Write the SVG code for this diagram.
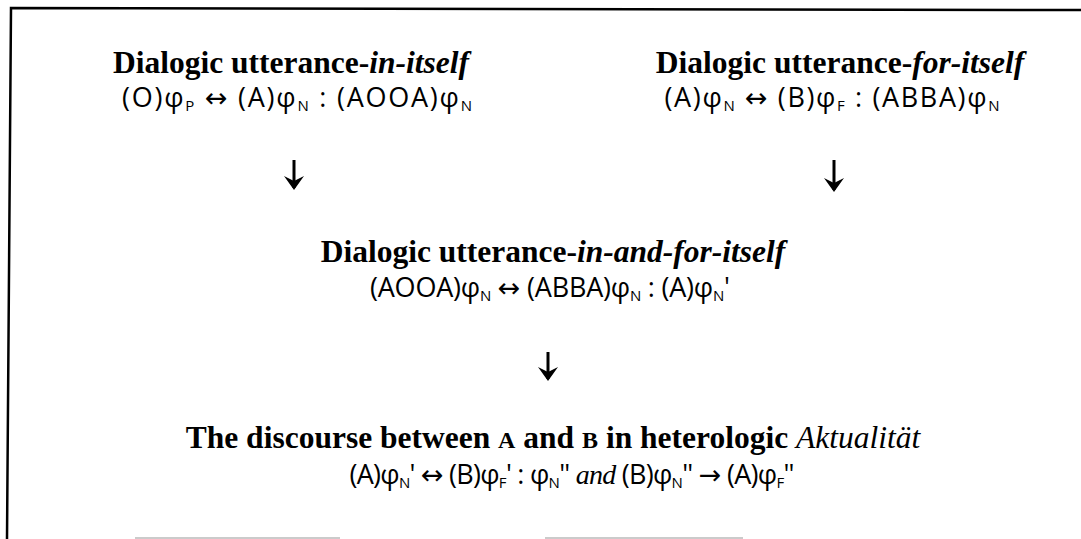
<svg xmlns="http://www.w3.org/2000/svg" width="1081" height="539" viewBox="0 0 1081 539">
<defs>
<style>
.t{font-family:"Liberation Serif","Times New Roman",serif;font-weight:bold;font-size:31.5px;fill:#000;text-anchor:middle}
.bi{font-style:italic}
.f{font-family:"Open Sans","Liberation Sans",sans-serif;font-size:27px;fill:#000;text-anchor:middle}
.s{font-size:15px}
.ar{font-family:"DejaVu Sans",sans-serif;font-size:27px}
.it{font-family:"Liberation Serif",serif;font-style:italic;font-size:28px}
.sc{font-size:24px}
.frame{fill:none;stroke:#000;stroke-width:2.5}
.conn line{stroke:#000;stroke-width:3}
</style>
<marker id="ah" viewBox="0 0 14 20" refX="12" refY="10" markerWidth="14" markerHeight="20" markerUnits="userSpaceOnUse" orient="auto">
<path d="M0,0 L14,10 L0,20 L5,10 Z" fill="#000"/>
</marker>
</defs>
<rect width="1081" height="539" fill="#fff"/>
<g id="frame">
<path class="frame" d="M7,539 L11,8 L1081,10"/>
<path d="M135,538 H340 M545,538 H743" stroke="#bbb" stroke-width="1.5"/>
</g>
<g id="node-in-itself">
<text class="t" x="291" y="73">Dialogic utterance-<tspan class="bi">in-itself</tspan></text>
<text class="f" x="297" y="107" textLength="350">(O)φ<tspan class="s" dy="4">P</tspan><tspan dy="-4"> </tspan><tspan class="ar">↔</tspan> (A)φ<tspan class="s" dy="4">N</tspan><tspan dy="-4"> : (AOOA)φ</tspan><tspan class="s" dy="4">N</tspan></text>
</g>
<g id="node-for-itself">
<text class="t" x="840" y="73">Dialogic utterance-<tspan class="bi">for-itself</tspan></text>
<text class="f" x="832" y="107" textLength="335">(A)φ<tspan class="s" dy="4">N</tspan><tspan dy="-4"> </tspan><tspan class="ar">↔</tspan> (B)φ<tspan class="s" dy="4">F</tspan><tspan dy="-4"> : (ABBA)φ</tspan><tspan class="s" dy="4">N</tspan></text>
</g>
<g id="node-in-and-for-itself">
<text class="t" x="553" y="262">Dialogic utterance-<tspan class="bi">in-and-for-itself</tspan></text>
<text class="f" x="550" y="297" textLength="360">(AOOA)φ<tspan class="s" dy="4">N</tspan><tspan dy="-4"> </tspan><tspan class="ar">↔</tspan> (ABBA)φ<tspan class="s" dy="4">N</tspan><tspan dy="-4"> : (A)φ</tspan><tspan class="s" dy="4">N</tspan><tspan dy="-4">'</tspan></text>
</g>
<g id="node-discourse">
<text class="t" x="553" y="448" font-size="33">The discourse between <tspan class="sc" font-size="25">A</tspan> and <tspan class="sc" font-size="25">B</tspan> in heterologic <tspan class="bi" font-weight="normal">Aktualität</tspan></text>
<text class="f" x="572" y="484" font-size="26" textLength="445">(A)φ<tspan class="s" dy="4">N</tspan><tspan dy="-4">' </tspan><tspan class="ar" font-size="26">↔</tspan> (B)φ<tspan class="s" dy="4">F</tspan><tspan dy="-4">' : φ</tspan><tspan class="s" dy="4">N</tspan><tspan dy="-4">'' </tspan><tspan class="it">and</tspan> (B)φ<tspan class="s" dy="4">N</tspan><tspan dy="-4">'' </tspan><tspan class="ar" font-size="26">→</tspan> (A)φ<tspan class="s" dy="4">F</tspan><tspan dy="-4">''</tspan></text>
</g>
<g id="connectors" class="conn">
<line x1="294" y1="160" x2="294" y2="188" marker-end="url(#ah)"/>
<line x1="834" y1="160" x2="834" y2="190" marker-end="url(#ah)"/>
<line x1="548" y1="352" x2="548" y2="379" marker-end="url(#ah)"/>
</g>
</svg>
